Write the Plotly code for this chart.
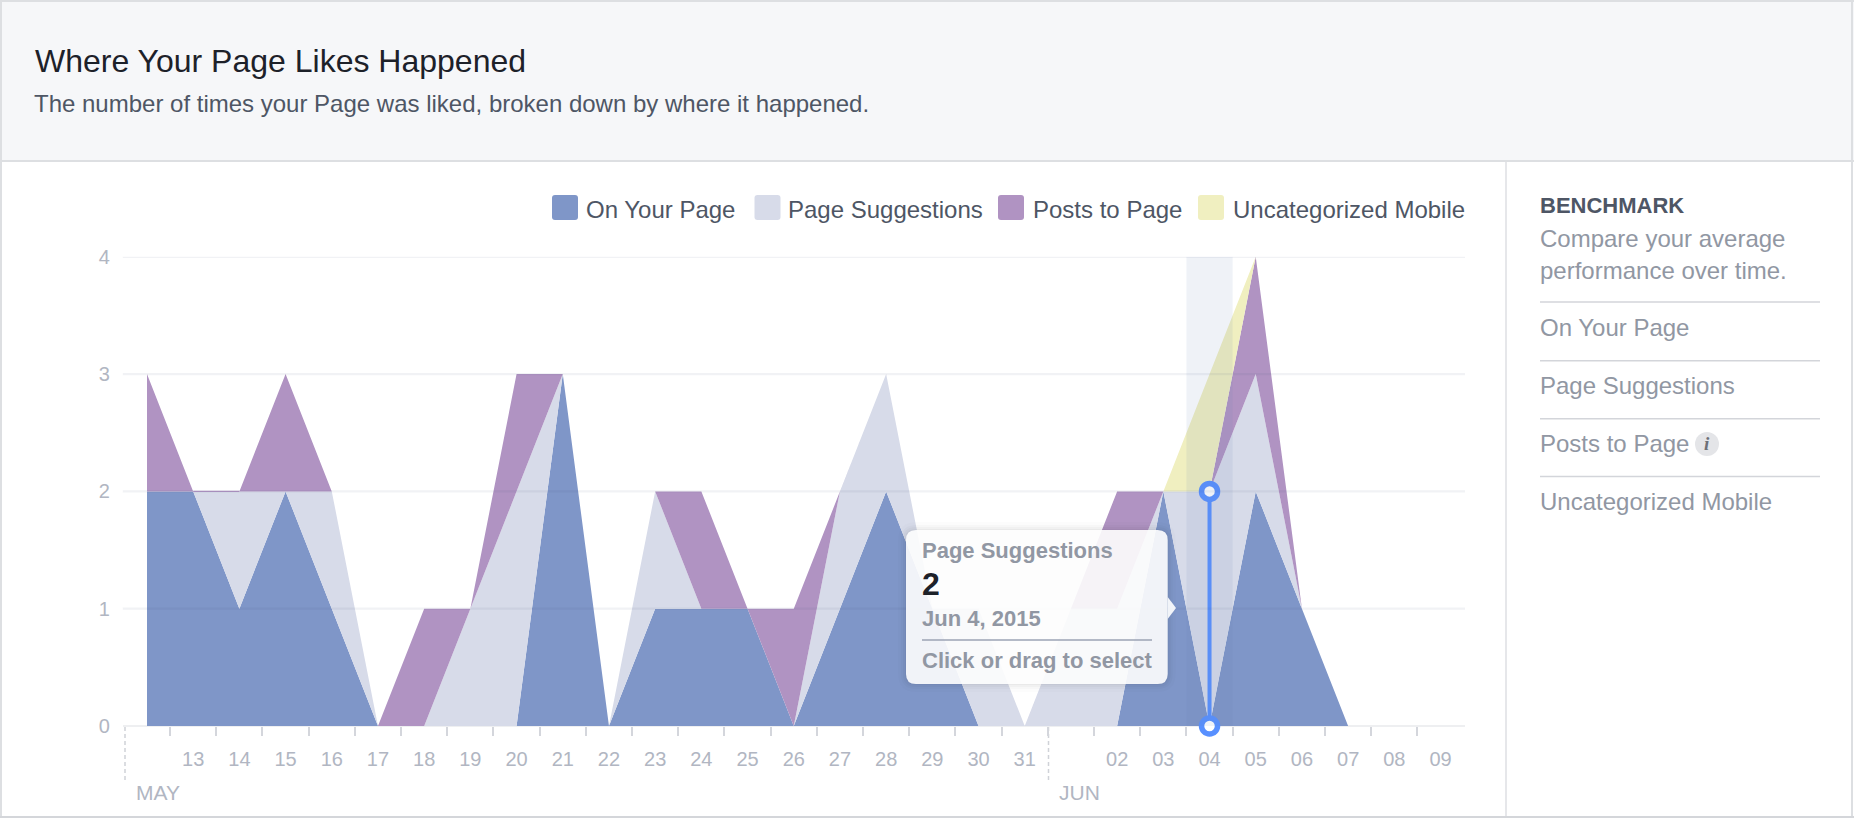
import plotly.graph_objects as go

W, H = 1854, 820

# ---- data -----
dates = ["2015-05-12","2015-05-13","2015-05-14","2015-05-15","2015-05-16","2015-05-17","2015-05-18",
         "2015-05-19","2015-05-20","2015-05-21","2015-05-22","2015-05-23","2015-05-24","2015-05-25",
         "2015-05-26","2015-05-27","2015-05-28","2015-05-29","2015-05-30","2015-05-31","2015-06-01",
         "2015-06-02","2015-06-03","2015-06-04","2015-06-05","2015-06-06","2015-06-07"]
on_your_page     = [2,2,1,2,1,0,0,0,0,3,0,1,1,1,0,1,2,1,0,0,0,0,2,0,2,1,0]
page_suggestions = [0,0,1,0,1,0,0,1,2,0,0,1,0,0,0,1,1,0,1,0,1,1,0,2,1,0,0]
posts_to_page    = [1,0,0,1,0,0,1,0,1,0,0,0,1,0,1,0,0,0,0,0,0,1,0,0,1,0,0]
uncategorized    = [0,0,0,0,0,0,0,0,0,0,0,0,0,0,0,0,0,0,0,0,0,0,0,1,0,0,0]

series_names = ["On Your Page", "Page Suggestions", "Posts to Page", "Uncategorized Mobile"]
series_values = [on_your_page, page_suggestions, posts_to_page, uncategorized]
series_colors = ["#7f96c8", "#d7dbe9", "#b093c2", "#f0efc0"]

y_ticks = [0, 1, 2, 3, 4]
tick_dates = ["2015-05-13","2015-05-14","2015-05-15","2015-05-16","2015-05-17","2015-05-18","2015-05-19",
              "2015-05-20","2015-05-21","2015-05-22","2015-05-23","2015-05-24","2015-05-25","2015-05-26",
              "2015-05-27","2015-05-28","2015-05-29","2015-05-30","2015-05-31","2015-06-02","2015-06-03",
              "2015-06-04","2015-06-05","2015-06-06","2015-06-07","2015-06-08","2015-06-09"]
tick_labels = ["13","14","15","16","17","18","19","20","21","22","23","24","25","26","27","28","29","30",
               "31","02","03","04","05","06","07","08","09"]
minor_ticks = ["2015-05-12 12:00","2015-05-13 12:00","2015-05-14 12:00","2015-05-15 12:00","2015-05-16 12:00",
               "2015-05-17 12:00","2015-05-18 12:00","2015-05-19 12:00","2015-05-20 12:00","2015-05-21 12:00",
               "2015-05-22 12:00","2015-05-23 12:00","2015-05-24 12:00","2015-05-25 12:00","2015-05-26 12:00",
               "2015-05-27 12:00","2015-05-28 12:00","2015-05-29 12:00","2015-05-30 12:00","2015-05-31 12:00",
               "2015-06-01 12:00","2015-06-02 12:00","2015-06-03 12:00","2015-06-04 12:00","2015-06-05 12:00",
               "2015-06-06 12:00","2015-06-07 12:00","2015-06-08 12:00"]
selected_date = "2015-06-04"
selected_value = 2

FONT = "Liberation Sans"
def px(x): return x / W
def py(y): return 1 - y / H

shapes, annos = [], []

def rect(x0, y0, x1, y1, fill, layer="below"):
    shapes.append(dict(type="rect", xref="paper", yref="paper", x0=px(x0), x1=px(x1), y0=py(y1), y1=py(y0),
                       fillcolor=fill, line=dict(width=0), layer=layer))

def rrect(x0, y0, x1, y1, r, fill, layer="below"):
    X0, X1, Y0, Y1 = px(x0), px(x1), py(y0), py(y1)
    rx, ry = r / W, r / H
    p = (f"M {X0+rx} {Y0} L {X1-rx} {Y0} Q {X1} {Y0} {X1} {Y0-ry} L {X1} {Y1+ry} Q {X1} {Y1} {X1-rx} {Y1} "
         f"L {X0+rx} {Y1} Q {X0} {Y1} {X0} {Y1+ry} L {X0} {Y0-ry} Q {X0} {Y0} {X0+rx} {Y0} Z")
    shapes.append(dict(type="path", xref="paper", yref="paper", path=p, fillcolor=fill, line=dict(width=0), layer=layer))

def text(x, y, s, size, color, anchor="left", bold=False, family=FONT):
    annos.append(dict(xref="paper", yref="paper", x=px(x), y=py(y), text=f"<b>{s}</b>" if bold else s,
                      showarrow=False, xanchor=anchor, yanchor="middle", xshift=0,
                      font=dict(size=size, color=color, family=family), borderpad=0, borderwidth=0))

# card frame
BORDER = "#dddfe2"
rect(0, 0, W, 161, "#f6f7f9")
rect(0, 0, W, 2, BORDER)
rect(0, 160, W, 162, BORDER)
rect(0, 0, 2, 818, BORDER)
rect(1851, 0, 1853, 818, BORDER)
rect(0, 816, W, 818, "#d4d6da")
rect(1505, 162, 1507, 816, "#e6e7ea")

text(35, 61, "Where Your Page Likes Happened", 32, "#1d2129")
text(34, 103, "The number of times your Page was liked, broken down by where it happened.", 24, "#4e5665")

# legend
legend_x = [(552, 586), (754.5, 788), (998, 1032.6), (1198, 1232.8)]
for (sx, tx), name, c in zip(legend_x, series_names, series_colors):
    rrect(sx, 195, sx + 26, 220, 3, c)
    text(tx, 209.5, name, 24, "#4e5665")

# sidebar
side_grey = "#9197a3"
text(1540, 205.5, "BENCHMARK", 22, "#4e5665", bold=True)
text(1540, 238, "Compare your average", 24, side_grey)
text(1540, 270, "performance over time.", 24, side_grey)
for y in (302, 360.8, 418.8, 476.5):
    rect(1540, y - 0.8, 1820, y + 0.8, "#d3d5da")
for y, s in zip((327.5, 385.6, 443.7, 501.8), series_names):
    text(1540, y, s, 24, side_grey)
shapes.append(dict(type="circle", xref="paper", yref="paper", x0=px(1695), x1=px(1719), y0=py(456), y1=py(432),
                   fillcolor="#e4e5e8", line=dict(width=0), layer="below"))
text(1707, 443.7, "<b><i>i</i></b>", 19, "#6d7078", anchor="center", family="Liberation Serif")

# month markers on the axis
DASH = "#d0d2d8"
for x, lab, tx in ((125, "MAY", 136), (1048.5, "JUN", 1059)):
    shapes.append(dict(type="line", xref="paper", yref="paper", x0=px(x), x1=px(x), y0=py(727), y1=py(783),
                       line=dict(color=DASH, width=1.5, dash="4px,3px"), layer="below"))
    text(tx, 792.6, lab, 21, "#b1b6c2")

fig = go.Figure()
for name, vals, c in zip(series_names, series_values, series_colors):
    fig.add_trace(go.Scatter(x=dates, y=vals, name=name, stackgroup="one", mode="lines",
                             line=dict(width=0, color=c), fillcolor=c, showlegend=False, hoverinfo="skip"))

# hairline of the empty Posts to Page layer on the flat May 13-14 stretch of the stack
stack_top = [a + b + c + d for a, b, c, d in zip(*series_values)]
fig.add_trace(go.Scatter(x=dates[1:3], y=stack_top[1:3], mode="lines", line=dict(color=series_colors[2], width=1.2),
                         showlegend=False, hoverinfo="skip"))

# gridlines show through the translucent areas, so they lie above them
for v in y_ticks[1:]:
    shapes.append(dict(type="line", xref="paper", yref="y", x0=px(122.8), x1=px(1465), y0=v, y1=v,
                       line=dict(color="rgba(70,80,115,0.075)", width=2.2), layer="above"))

# selection band
shapes.append(dict(type="rect", xref="x", yref="y", x0="2015-06-03 12:00", x1="2015-06-04 12:00", y0=0, y1=4,
                   fillcolor="rgba(100,130,180,0.10)", line=dict(width=0), layer="above"))

# selection marker
fig.add_trace(go.Scatter(x=[selected_date, selected_date], y=[0, selected_value], mode="lines+markers",
                         line=dict(color="#5890ff", width=4),
                         marker=dict(size=16, color="white", line=dict(color="#5890ff", width=5.5)),
                         showlegend=False, hoverinfo="skip", cliponaxis=False))

# tooltip
for grow, alpha in ((8, 0.012), (5, 0.018), (3, 0.022), (1, 0.03)):
    rrect(906 - grow, 530 - grow, 1167.7 + grow, 684 + grow, 10 + grow, f"rgba(0,0,0,{alpha})", layer="above")
rrect(906, 530, 1167.7, 684, 10, "rgba(255,255,255,0.9)", layer="above")
shapes.append(dict(type="path", xref="paper", yref="paper",
                   path=f"M {px(1167.7)} {py(597)} L {px(1176)} {py(608)} L {px(1167.7)} {py(619)} Z",
                   fillcolor="rgba(255,255,255,0.9)", line=dict(width=0), layer="above"))
text(922, 550.6, "Page Suggestions", 22, side_grey, bold=True)
text(922, 584, str(selected_value), 32, "#1d2129", bold=True)
text(922, 618.8, "Jun 4, 2015", 22, side_grey, bold=True)
rect(922, 639.2, 1152, 640.8, "#9ba3b5", layer="above")
text(922, 660.8, "Click or drag to select", 22, side_grey, bold=True)

fig.update_layout(
    width=W, height=H, autosize=False, margin=dict(l=0, r=0, t=0, b=0, autoexpand=False),
    paper_bgcolor="white", plot_bgcolor="white", hovermode=False,
    font=dict(family=FONT),
    shapes=shapes, annotations=annos,
    xaxis=dict(
        type="date", domain=[px(122.8), px(1465)],
        range=["2015-05-11 11:26", "2015-06-09 12:43"], fixedrange=True,
        tickmode="array", tickvals=tick_dates, ticktext=tick_labels,
        ticks="outside", ticklen=15, tickcolor="rgba(0,0,0,0)", tickwidth=1,
        tickfont=dict(size=20, color="#b1b6c2"), showgrid=False, zeroline=False, showline=False,
        automargin=False,
        minor=dict(tickmode="array", tickvals=minor_ticks, ticks="outside", ticklen=9, tickwidth=1.5,
                   tickcolor="#d4d6dc", showgrid=False),
    ),
    yaxis=dict(
        domain=[py(726), py(256.8)], range=[0, 4], fixedrange=True, automargin=False,
        tickmode="array", tickvals=y_ticks, ticktext=[str(v) for v in y_ticks],
        ticks="outside", ticklen=8, tickcolor="rgba(0,0,0,0)",
        tickfont=dict(size=20, color="#b1b6c2"),
        showgrid=False, zeroline=True, zerolinecolor="#eeeff1", zerolinewidth=2, showline=False,
    ),
)
fig.write_html("out.html", config={"displayModeBar": False},
               post_script="document.body.style.margin='0';document.body.style.overflow='hidden';")
